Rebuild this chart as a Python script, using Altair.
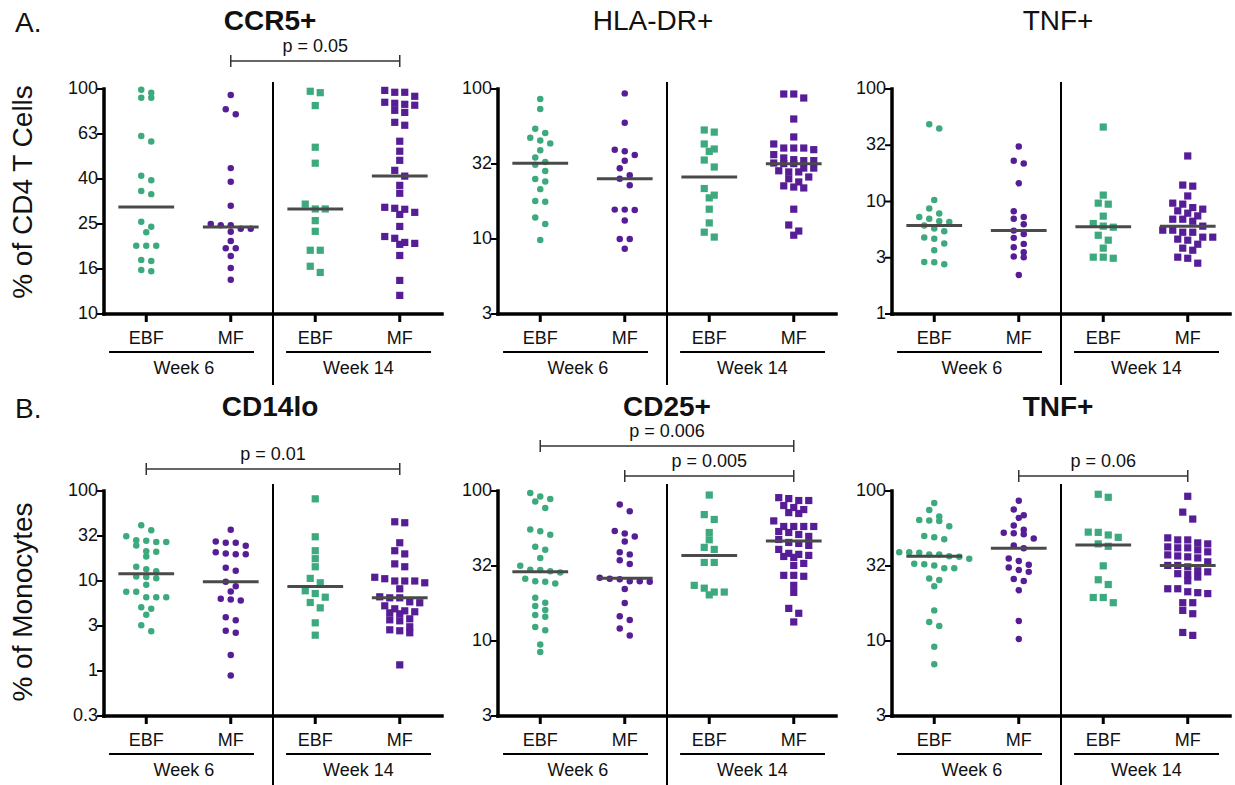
import math
import numpy as np
import pandas as pd
import altair as alt

# ---------------- data ----------------
# A. CD4 T cells
ccr5_ebf_w6 = [99.3, 96.3, 91.5, 91.5, 61.8, 58.4, 41.2, 39.3, 35.2, 34.1, 25.7, 24.4, 23.1,
               20.1, 20.1, 20.1, 17.2, 17.4, 15.5, 15.7]
ccr5_mf_w6 = [94.0, 81.3, 77.2, 44.5, 38.7, 30.3, 25.1, 24.8, 24.8, 23.9, 23.9, 23.2, 21.1,
              19.6, 19.6, 18.1, 16.0, 14.2]
ccr5_ebf_w14 = [97.7, 96.3, 84.4, 55.1, 46.8, 30.8, 29.3, 29.3, 26.0, 23.3, 19.2, 19.2, 16.3, 15.3]
ccr5_mf_w14 = [98.6, 96.7, 96.7, 92.8, 87.3, 86.4, 85.5, 84.7, 80.4, 78.7, 71.1, 69.0, 58.6,
               52.9, 48.2, 43.5, 41.0, 37.3, 34.4, 29.8, 29.5, 29.2, 28.3, 27.7, 24.5, 22.1,
               21.7, 20.8, 20.6, 20.4, 18.2, 14.1, 12.1]

hla_ebf_w6 = [85.8, 73.6, 54.3, 50.9, 47.3, 45.4, 43.4, 39.0, 35.0, 32.6, 31.3, 28.4, 25.1,
              24.2, 21.5, 17.9, 17.7, 13.9, 12.6, 9.85]
hla_mf_w6 = [93.5, 59.6, 39.3, 38.4, 36.3, 33.2, 29.6, 26.6, 25.2, 22.8, 15.7, 15.7, 15.6,
             13.3, 10.0, 10.0, 8.6]
hla_ebf_w14 = [53.3, 51.6, 43.0, 39.8, 38.4, 33.6, 30.2, 21.7, 19.6, 18.8, 15.8, 12.8, 11.1, 10.3]
hla_mf_w14 = [92.6, 92.6, 87.1, 63.1, 47.9, 43.0, 40.4, 40.4, 40.4, 39.4, 36.5, 34.7, 33.8,
              33.3, 33.3, 32.1, 31.8, 31.8, 29.7, 29.7, 28.5, 28.0, 28.0, 25.9, 25.2, 24.0,
              22.6, 22.2, 21.9, 15.8, 12.4, 11.3, 10.6]

tnfa_ebf_w6 = [48.7, 44.6, 10.3, 8.65, 7.82, 7.29, 7.01, 6.68, 6.59, 6.11, 5.74, 5.45, 4.78,
               4.66, 4.23, 3.69, 2.90, 2.88, 2.77]
tnfa_mf_w6 = [30.8, 23.0, 21.8, 14.5, 8.21, 7.29, 7.01, 6.28, 5.51, 5.15, 4.75, 4.20, 3.92,
              3.54, 3.24, 3.20, 2.22]
tnfa_ebf_w14 = [45.9, 11.4, 9.67, 9.47, 7.41, 6.37, 6.04, 5.91, 5.01, 4.53, 3.85, 3.20, 3.20, 3.13]
tnfa_mf_w14 = [25.4, 14.0, 13.7, 11.2, 9.67, 9.47, 8.83, 8.55, 8.26, 7.87, 7.45, 6.96, 6.96,
               6.68, 6.04, 5.56, 5.56, 5.33, 5.33, 4.82, 4.82, 4.63, 4.53, 4.17, 3.85, 3.69,
               3.20, 3.13, 2.83]

# B. Monocytes
cd14_ebf_w6 = [41.7, 36.7, 31.5, 28.4, 28.0, 27.2, 27.2, 24.8, 21.4, 21.1, 18.7, 14.4, 13.5,
               12.8, 11.2, 11.1, 10.7, 9.08, 7.59, 7.59, 6.61, 6.61, 6.61, 5.12, 4.91, 4.21,
               3.23, 2.77]
cd14_mf_w6 = [37.1, 27.5, 26.6, 26.6, 24.6, 20.9, 20.2, 19.8, 19.8, 14.0, 13.0, 9.8, 8.75,
              7.64, 6.34, 6.22, 6.07, 3.96, 3.67, 2.80, 2.66, 1.51, 0.89]
cd14_ebf_w14 = [81.8, 31.0, 21.7, 17.7, 14.4, 10.7, 9.55, 7.79, 7.26, 6.61, 5.77, 5.03, 3.43, 2.50]
cd14_mf_w14 = [45.5, 44.4, 26.6, 21.7, 20.0, 15.5, 14.4, 11.0, 10.6, 10.0, 10.0, 10.0, 9.55,
               8.19, 6.67, 6.50, 6.50, 5.87, 5.73, 5.30, 4.91, 4.66, 4.55, 4.43, 4.32, 3.80,
               3.70, 3.61, 3.10, 2.87, 2.80, 2.66, 1.17]

cd25_ebf_w6 = [97.0, 91.8, 88.4, 85.0, 77.1, 55.4, 54.0, 51.0, 42.5, 40.6, 35.7, 31.8, 29.9,
               29.7, 29.2, 28.6, 26.0, 25.0, 24.8, 24.2, 19.4, 18.0, 17.1, 16.1, 14.9, 14.5,
               12.4, 11.8, 9.48, 8.44]
cd25_mf_w6 = [81.2, 73.2, 54.2, 52.1, 49.8, 46.1, 39.0, 37.8, 34.6, 32.6, 26.4, 26.0, 25.8,
              25.0, 25.0, 24.8, 22.2, 17.9, 14.6, 13.8, 12.1, 10.9]
cd25_ebf_w14 = [94.0, 69.6, 64.6, 52.9, 47.3, 42.1, 40.8, 33.4, 33.4, 23.5, 22.5, 21.2, 21.2, 20.3]
cd25_mf_w14 = [90.3, 89.0, 86.4, 86.4, 80.0, 77.6, 75.2, 71.8, 70.8, 63.2, 58.0, 58.0, 58.0,
               58.0, 53.7, 52.9, 51.3, 49.8, 47.5, 45.4, 44.7, 43.4, 40.8, 38.4, 37.8, 37.2,
               36.6, 36.1, 32.9, 31.9, 27.4, 27.4, 27.0, 23.5, 21.1, 16.5, 15.3, 13.4]

tnfb_ebf_w6 = [83.3, 74.8, 67.6, 64.0, 63.6, 63.0, 58.3, 50.1, 49.1, 47.6, 39.0, 39.0, 38.7,
               37.8, 37.8, 36.7, 36.5, 35.3, 32.7, 32.5, 31.9, 30.6, 30.6, 26.1, 25.5, 23.2,
               16.0, 13.4, 12.6, 9.16, 7.01]
tnfb_mf_w6 = [86.2, 75.2, 69.0, 66.2, 58.9, 55.2, 52.7, 52.2, 51.4, 48.3, 43.4, 41.5, 35.5,
              34.2, 32.2, 30.9, 29.7, 28.9, 25.9, 25.1, 21.8, 13.6, 10.3]
tnfb_ebf_w14 = [95.1, 90.8, 53.2, 53.0, 50.9, 49.1, 44.4, 42.8, 31.7, 25.6, 23.8, 19.5, 19.5, 18.0]
tnfb_mf_w14 = [92.2, 72.3, 65.0, 48.7, 47.2, 47.2, 45.1, 44.4, 42.4, 41.8, 41.8, 40.5, 39.3,
               37.5, 36.9, 36.4, 35.8, 33.7, 31.9, 31.9, 31.2, 29.4, 28.9, 28.1, 27.7, 26.7,
               25.2, 22.3, 22.3, 21.3, 21.0, 20.7, 18.0, 18.0, 16.0, 15.2, 11.4, 10.9]

# y-axis ticks (half / fifth decades) and their printed labels
ticks_ccr5 = [10.0, 15.849, 25.119, 39.811, 63.096, 100.0]
labels_ccr5 = ["10", "16", "25", "40", "63", "100"]
ticks_hla = [3.1623, 10.0, 31.623, 100.0]
labels_hla = ["3", "10", "32", "100"]
ticks_tnfa = [1.0, 3.1623, 10.0, 31.623, 100.0]
labels_tnfa = ["1", "3", "10", "32", "100"]
ticks_cd14 = [0.31623, 1.0, 3.1623, 10.0, 31.623, 100.0]
labels_cd14 = ["0.3", "1", "3", "10", "32", "100"]
ticks_cd25 = [3.1623, 10.0, 31.623, 100.0]
labels_cd25 = ["3", "10", "32", "100"]
ticks_tnfb = [3.1623, 10.0, 31.623, 100.0]
labels_tnfb = ["3", "10", "32", "100"]

feeds = ["EBF", "MF", "EBF", "MF"]
weeks = ["Week 6", "Week 6", "Week 14", "Week 14"]
week_names = ["Week 6", "Week 14"]

# ---------------- layout ----------------
W, H = 338, 225
UNIT = W / 8.0
GREEN, PURPLE = "#3DAA7E", "#561D96"
FONT = "Liberation Sans"
INK = "#111111"


def swarm(vals, lo, hi, dot=7.0, step=10.0):
    l0, l1 = math.log10(lo), math.log10(hi)
    py = [H * (l1 - math.log10(v)) / (l1 - l0) for v in vals]
    order = sorted(range(len(vals)), key=lambda i: py[i])
    rows, cur = [], []
    for i in order:
        if cur and py[i] - py[cur[0]] >= dot:
            rows.append(cur)
            cur = []
        cur.append(i)
    if cur:
        rows.append(cur)
    offs = [0.0] * len(vals)
    for r in rows:
        n = len(r)
        for k, i in enumerate(r):
            offs[i] = (k - (n - 1) / 2.0) * step / UNIT
    return offs


def panel(title, bold, title_x, title_y, ticks, tick_labels, groups, brackets, sep_bottom,
          letter=None, ytitle=None, ytitle_y=0, frame=False):
    lo = ticks[0]
    xs = alt.Scale(domain=[0, 8], nice=False, zero=False)
    ys = alt.Scale(type="log", domain=[lo, 100.0], nice=False)
    X = lambda f: alt.X(f, scale=xs, axis=None)
    Y = lambda f: alt.Y(f, scale=ys, axis=None)

    rows, meds = [], []
    for gi, vals in enumerate(groups):
        pos = 1 + 2 * gi
        offs = swarm(vals, lo, 100.0)
        for v, o in zip(vals, offs):
            rows.append({"x": pos + o, "y": v, "feed": feeds[gi], "week": weeks[gi]})
        meds.append({"x": pos - 0.66, "x2": pos + 0.66, "y": float(np.median(vals))})
    pts = pd.DataFrame(rows)
    one = pd.DataFrame({"a": [0]})

    layers = []
    if frame:
        layers.append(alt.Chart(one).mark_rect(fill="white", opacity=0).encode(
            x=alt.value(-104), x2=alt.value(1131), y=alt.value(-89), y2=alt.value(696)))

    # axes drawn by hand
    tdf = pd.DataFrame({"y": ticks, "t": tick_labels})
    layers.append(alt.Chart(tdf).mark_rule(color="black", strokeWidth=2).encode(
        y=Y("y:Q"), x=alt.value(-7), x2=alt.value(0)))
    layers.append(alt.Chart(tdf).mark_text(font=FONT, fontSize=18, color=INK, align="right",
                                           baseline="middle", dx=1).encode(
        y=Y("y:Q"), x=alt.value(-7), text="t:N"))
    layers.append(alt.Chart(pd.DataFrame({"x": [1, 3, 5, 7]})).mark_rule(
        color="black", strokeWidth=3).encode(x=X("x:Q"), y=alt.value(H), y2=alt.value(H + 8)))
    layers.append(alt.Chart(one).mark_rule(color="black", strokeWidth=3.5, strokeCap="square").encode(
        x=alt.value(0), y=alt.value(0), y2=alt.value(H)))
    layers.append(alt.Chart(one).mark_rule(color="black", strokeWidth=3.5, strokeCap="square").encode(
        x=alt.value(0), x2=alt.value(W), y=alt.value(H)))

    # points
    layers.append(alt.Chart(pts).mark_point(filled=True, opacity=1, strokeWidth=0).encode(
        x=X("x:Q"), y=Y("y:Q"),
        color=alt.Color("feed:N", scale=alt.Scale(domain=["EBF", "MF"], range=[GREEN, PURPLE]),
                        legend=None),
        shape=alt.Shape("week:N", scale=alt.Scale(domain=week_names, range=["circle", "square"]),
                        legend=None),
        size=alt.Size("week:N", scale=alt.Scale(domain=week_names, range=[42, 52]), legend=None),
    ))

    # medians
    layers.append(alt.Chart(pd.DataFrame(meds)).mark_rule(color="#4a4a4a", strokeWidth=3).encode(
        x=X("x:Q"), x2="x2:Q", y=Y("y:Q")))

    # separator between weeks
    layers.append(alt.Chart(pd.DataFrame({"x": [4.0]})).mark_rule(color="black", strokeWidth=2).encode(
        x=X("x:Q"), y=alt.value(-7), y2=alt.value(sep_bottom)))

    # group labels
    layers.append(alt.Chart(pd.DataFrame({"x": [1, 3, 5, 7], "t": feeds})).mark_text(
        font=FONT, fontSize=18, color=INK, baseline="middle").encode(
        x=X("x:Q"), y=alt.value(250), text="t:N"))
    layers.append(alt.Chart(pd.DataFrame({"x": [0.12, 4.31], "x2": [3.55, 7.74]})).mark_rule(
        color="black", strokeWidth=2).encode(x=X("x:Q"), x2="x2:Q", y=alt.value(263)))
    layers.append(alt.Chart(pd.DataFrame({"x": [1.89, 6.02], "t": week_names})).mark_text(
        font=FONT, fontSize=18, color=INK, baseline="middle").encode(
        x=X("x:Q"), y=alt.value(280), text="t:N"))

    # title
    layers.append(alt.Chart(pd.DataFrame({"x": [title_x], "t": [title]})).mark_text(
        font=FONT, fontSize=28, fontWeight="bold" if bold else "normal", color=INK,
        baseline="middle").encode(x=X("x:Q"), y=alt.value(title_y), text="t:N"))

    # p-value brackets
    for (x1, x2, yl, lab) in brackets:
        layers.append(alt.Chart(pd.DataFrame({"x": [x1], "x2": [x2]})).mark_rule(
            color="#333333", strokeWidth=1.5).encode(x=X("x:Q"), x2="x2:Q", y=alt.value(yl)))
        layers.append(alt.Chart(pd.DataFrame({"x": [x1, x2]})).mark_rule(
            color="#333333", strokeWidth=1.5).encode(
            x=X("x:Q"), y=alt.value(yl - 6), y2=alt.value(yl + 6)))
        layers.append(alt.Chart(pd.DataFrame({"x": [(x1 + x2) / 2.0], "t": [lab]})).mark_text(
            font=FONT, fontSize=18, color=INK, baseline="middle").encode(
            x=X("x:Q"), y=alt.value(yl - 14), text="t:N"))

    if letter:
        layers.append(alt.Chart(pd.DataFrame({"t": [letter[0]]})).mark_text(
            font=FONT, fontSize=28, color=INK, align="left", baseline="middle").encode(
            x=alt.value(-89), y=alt.value(letter[1]), text="t:N"))
    if ytitle:
        layers.append(alt.Chart(pd.DataFrame({"t": [ytitle]})).mark_text(
            font=FONT, fontSize=28, color=INK, angle=270, baseline="middle").encode(
            x=alt.value(-80), y=alt.value(ytitle_y), text="t:N"))

    return alt.layer(*layers).properties(width=W, height=H)


a1 = panel("CCR5+", True, 3.93, -67, ticks_ccr5, labels_ccr5,
           [ccr5_ebf_w6, ccr5_mf_w6, ccr5_ebf_w14, ccr5_mf_w14],
           [(3, 7, -28, "p = 0.05")], 296,
           letter=("A.", -65), ytitle="% of CD4 T Cells", ytitle_y=103, frame=True)
a2 = panel("HLA-DR+", False, 3.67, -67, ticks_hla, labels_hla,
           [hla_ebf_w6, hla_mf_w6, hla_ebf_w14, hla_mf_w14], [], 296)
a3 = panel("TNF+", False, 3.93, -67, ticks_tnfa, labels_tnfa,
           [tnfa_ebf_w6, tnfa_mf_w6, tnfa_ebf_w14, tnfa_mf_w14], [], 296)

b1 = panel("CD14lo", True, 3.93, -83, ticks_cd14, labels_cd14,
           [cd14_ebf_w6, cd14_mf_w6, cd14_ebf_w14, cd14_mf_w14],
           [(1, 7, -22, "p = 0.01")], 294,
           letter=("B.", -81), ytitle="% of Monocytes", ytitle_y=111)
b2 = panel("CD25+", True, 4.0, -83, ticks_cd25, labels_cd25,
           [cd25_ebf_w6, cd25_mf_w6, cd25_ebf_w14, cd25_mf_w14],
           [(1, 7, -45, "p = 0.006"), (3, 7, -15, "p = 0.005")], 294)
b3 = panel("TNF+", True, 3.93, -83, ticks_tnfb, labels_tnfb,
           [tnfb_ebf_w6, tnfb_mf_w6, tnfb_ebf_w14, tnfb_mf_w14],
           [(3, 7, -15, "p = 0.06")], 294)

chart = alt.concat(a1, a2, a3, b1, b2, b3, columns=3,
                   spacing={"row": 177, "column": 56}, bounds="flush").properties(
    padding=0, background="white"
).configure_view(stroke=None)

chart.save("out.html", embed_options={"renderer": "svg", "actions": False})
